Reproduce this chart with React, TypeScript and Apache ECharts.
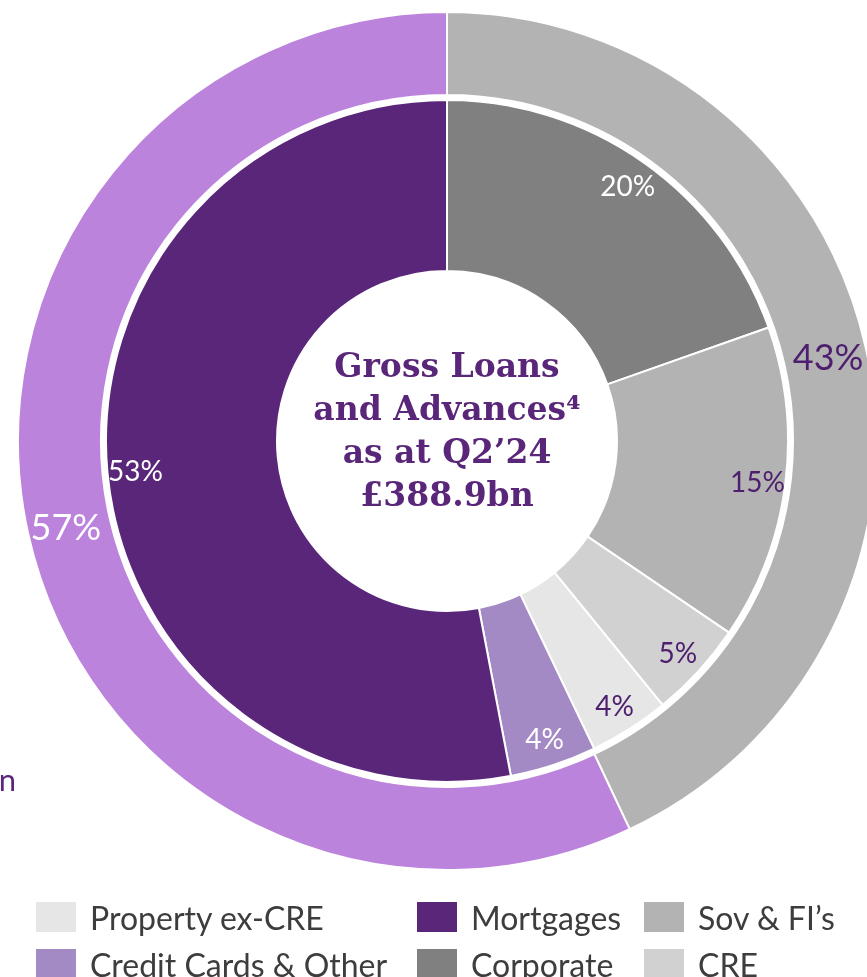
import React, { useEffect, useRef } from "react";
import * as echarts from "echarts";

const innerNames = ["Corporate", "Sov & FI’s", "CRE", "Property ex-CRE", "Credit Cards & Other", "Mortgages"];
const innerValues = [19.6, 14.9, 4.6, 3.8, 4.1, 53.0];
const innerColors = ["#808080", "#b3b3b3", "#d1d1d1", "#e6e6e6", "#a48ac4", "#5a2679"];
const innerLabelColors = ["#ffffff", "#4e1f6e", "#4e1f6e", "#4e1f6e", "#ffffff", "#ffffff"];

const outerNames = ["Non-retail", "Retail"];
const outerValues = [43, 57];
const outerColors = ["#b3b3b3", "#bb83dc"];
const outerLabelColors = ["#4e1f6e", "#ffffff"];

const legendColumns = [
  ["Property ex-CRE", "Credit Cards & Other"],
  ["Mortgages", "Corporate"],
  ["Sov & FI’s", "CRE"],
];
const legendLefts = [36, 417, 644];

const centerTitle = "Gross Loans\nand Advances⁴\nas at Q2’24\n£388.9bn";

export default function App() {
  const ref = useRef<HTMLDivElement>(null);
  useEffect(() => {
    if (!ref.current) return;
    const chart = echarts.init(ref.current, undefined, { renderer: "svg" });
    const center = [447, 441];
    const pct = (p: any) => Math.round(p.value) + "%";
    const innerData = innerNames.map((n, i) => ({
      name: n,
      value: innerValues[i],
      itemStyle: { color: innerColors[i] },
    }));
    const innerLabelData = innerNames.map((n, i) => ({
      name: n,
      value: innerValues[i],
      label: { color: innerLabelColors[i] },
    }));
    const outerData = outerNames.map((n, i) => ({
      name: n,
      value: outerValues[i],
      itemStyle: { color: outerColors[i] },
      label: { color: outerLabelColors[i] },
    }));
    chart.setOption({
      animation: false,
      legend: legendColumns.map((col, i) => ({
        data: col,
        orient: "vertical",
        left: legendLefts[i],
        top: 901,
        height: 150,
        itemWidth: 40,
        itemHeight: 30,
        itemGap: 15,
        padding: 0,
        icon: "rect",
        selectedMode: false,
        itemStyle: { borderWidth: 0 },
        textStyle: {
          fontFamily: "Lato",
          fontSize: 32,
          color: "#3d3d3d",
          padding: [0, 0, 0, 9],
        },
      })),
      series: [
        {
          type: "pie",
          name: "Outer",
          center,
          radius: [346, 429],
          startAngle: 90,
          clockwise: true,
          data: outerData,
          itemStyle: { borderColor: "#ffffff", borderWidth: 2 },
          label: {
            show: true,
            position: "inside",
            formatter: pct,
            fontFamily: "Lato",
            fontSize: 36,
          },
          labelLine: { show: false },
          emphasis: { disabled: true },
        },
        {
          type: "pie",
          name: "Inner",
          center,
          radius: [170, 341],
          startAngle: 90,
          clockwise: true,
          data: innerData,
          itemStyle: { borderColor: "#ffffff", borderWidth: 2 },
          label: { show: false },
          labelLine: { show: false },
          emphasis: { disabled: true },
        },
        {
          type: "pie",
          name: "InnerLabels",
          center,
          radius: [279, 341],
          startAngle: 90,
          clockwise: true,
          silent: true,
          data: innerLabelData,
          itemStyle: { color: "rgba(0,0,0,0)", borderWidth: 0 },
          label: {
            show: true,
            position: "inside",
            formatter: pct,
            fontFamily: "Lato",
            fontSize: 28,
          },
          labelLine: { show: false },
          emphasis: { disabled: true },
        },
      ],
      graphic: [
        {
          type: "text",
          x: 447,
          y: 430,
          style: {
            text: centerTitle,
            fill: "#5a2679",
            fontFamily: "DejaVu Serif",
            fontWeight: "bold",
            fontSize: 33,
            lineHeight: 43,
            align: "center",
            verticalAlign: "middle",
          },
        },
        {
          type: "text",
          x: 16,
          y: 779,
          style: {
            text: "n",
            fill: "#5a2679",
            fontFamily: "Lato",
            fontSize: 31,
            align: "right",
            verticalAlign: "middle",
          },
        },
      ],
    });
    return () => chart.dispose();
  }, []);
  return (
    <div
      ref={ref}
      style={{ position: "fixed", left: 0, top: 0, width: 867, height: 977 }}
    />
  );
}
